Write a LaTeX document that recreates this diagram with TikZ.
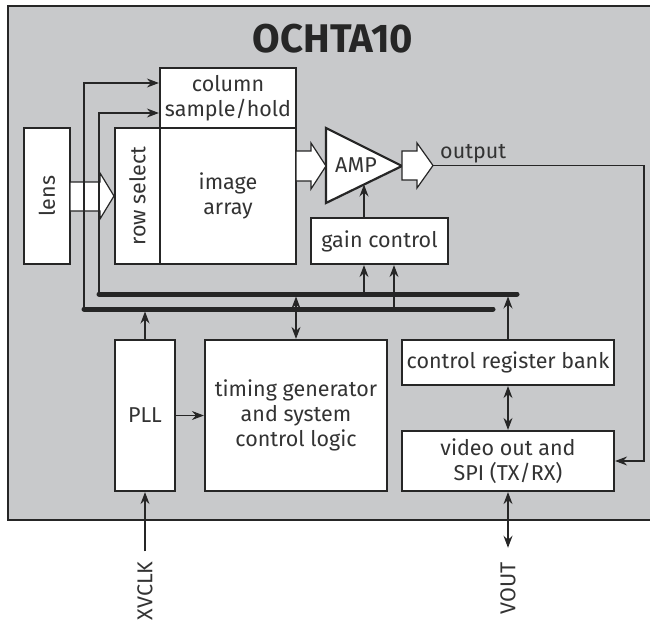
\documentclass[tikz,border=0pt]{standalone}
\usepackage{fontspec}
\setmainfont{Fira Sans}
\usetikzlibrary{arrows.meta}
\definecolor{bg}{HTML}{C8C9CB}
\definecolor{ink}{HTML}{262626}
\definecolor{txt}{HTML}{333333}
\begin{document}
\begin{tikzpicture}[x=1pt,y=-1pt,
  lbl/.style={font=\fontsize{21.5}{25}\selectfont,text=txt,align=center,inner sep=0pt},
  box/.style={lbl,draw=ink,line width=2.2pt,fill=white},
  conn/.style={draw=ink,line width=1.1pt},
  tip/.style={-{Stealth[length=12pt,width=9pt,inset=4pt]}},
  dtip/.style={{Stealth[length=12pt,width=9pt,inset=4pt]}-{Stealth[length=12pt,width=9pt,inset=4pt]}},
  bus/.style={draw=ink,line width=5pt,line cap=round},
  blockarrow/.style={draw=ink,line width=1.2pt,fill=white,line join=miter}
]
\useasboundingbox (0,0) rectangle (650,626);
% chip outline
\fill[bg] (8,6) rectangle (655,520);
\draw[ink,line width=2pt] (655,6) -- (8,6) -- (8,520) -- (655,520);
\node[font=\fontsize{40}{44}\bfseries,text=ink,inner sep=0pt] (title) at (333,39) {OCHTA10};

% boxes
\node[box,minimum width=136pt,minimum height=60pt] (colsh) at (228,98) {column\\sample/hold};
\node[box,minimum width=136pt,minimum height=136pt] (img) at (228,196) {image\\array};
\node[box,rotate=90,minimum width=136pt,minimum height=45pt] (rowsel) at (137.5,196) {row select};
\node[box,rotate=90,minimum width=136pt,minimum height=46pt] (lens) at (47,196) {lens};
\node[box,minimum width=137pt,minimum height=46pt] (gain) at (379.5,241) {gain control};
\node[box,minimum width=60pt,minimum height=151pt] (pll) at (145,415.5) {PLL};
\node[box,minimum width=182pt,minimum height=151pt] (timing) at (296,415.5) {timing generator\\and system\\control logic};
\node[box,minimum width=212pt,minimum height=45pt] (crb) at (508,362.5) {control register bank};
\node[box,minimum width=212pt,minimum height=60pt] (video) at (508,461) {video out and\\SPI (TX/RX)};

% amplifier
\draw[ink,line width=2.2pt,fill=white,line join=miter] (326,128) -- (402,166) -- (326,203) -- cycle;
\node[lbl] (amp) at (356,165) {AMP};
\coordinate (ampin) at (364,184.5);
\coordinate (ampout) at (402,166);

% block arrows
\draw[blockarrow] (70,182) -- (100,182) -- (100,173) -- (114,196) -- (100,219) -- (100,211) -- (70,211) -- cycle;
\draw[blockarrow] (296,151) -- (311,151) -- (311,143) -- (326,166) -- (311,189) -- (311,181) -- (296,181) -- cycle;
\draw[blockarrow] (402,151) -- (417,151) -- (417,143) -- (433,165.5) -- (417,188) -- (417,180) -- (402,180) -- cycle;
\coordinate (outtip) at (433,165.5);
\node[lbl,anchor=base west] (outlbl) at (440,158) {output};

% buses
\coordinate (b1L) at (99,294);
\coordinate (b1R) at (517,294);
\coordinate (b2L) at (84,309);
\coordinate (b2R) at (493,309);

% connectors
\draw[conn,tip] (b2L) |- ([yshift=15pt]colsh.west);
\draw[conn,tip] (b1L) |- ([yshift=-15pt]colsh.west);
\draw[conn,tip] ([xshift=-15.5pt]gain.north) -- (ampin);
\draw[conn,tip] (364,294) -- ([xshift=-15.5pt]gain.south);
\draw[conn,tip] (394,309) -- ([xshift=14.5pt]gain.south);
\draw[conn,tip] (pll.north) -- (145,311.5);
\draw[conn,tip] (pll.east) -- (timing.west);
\draw[conn,dtip] (timing.north) -- (296,296.5);
\draw[conn,tip] (crb.north) -- (508,296.5);
\draw[conn,dtip] (crb.south) -- (video.north);
\draw[conn,tip] (outtip) -- (644,165.5) |- (video.east);

\draw[bus] (b1L) -- (b1R);
\draw[bus] (b2L) -- (b2R);

% external pins
\node[lbl,rotate=90] (xvclk) at (145,591) {XVCLK};
\node[lbl,rotate=90] (vout) at (508,588) {VOUT};
\draw[conn,tip,shorten <=10pt] (xvclk.east) -- (xvclk.east |- pll.south);
\draw[conn,dtip,shorten >=14pt] (video.south) -- (video.south |- vout.east);
\end{tikzpicture}
\end{document}
